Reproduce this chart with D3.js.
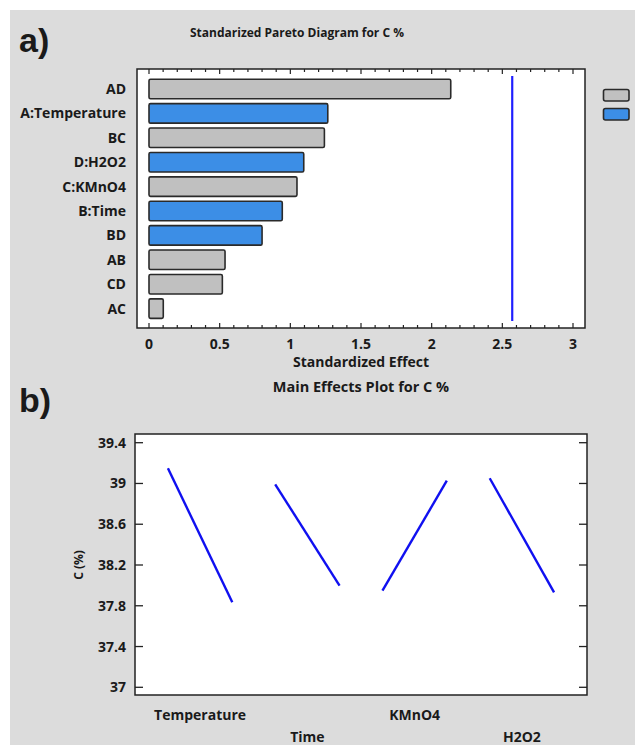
<!DOCTYPE html>
<html><head><meta charset="utf-8">
<script src="https://cdn.jsdelivr.net/npm/d3@7"></script>
<style>
html,body{margin:0;padding:0;background:#fff;}
text{font-family:"Open Sans",Lato,sans-serif;font-weight:700;fill:#1a1a1a;}
</style></head>
<body>
<svg id="chart" width="635" height="745"></svg>
<script>
// ---- Data ----
const paretoTerms = ["AD","A:Temperature","BC","D:H2O2","C:KMnO4","B:Time","BD","AB","CD","AC"];
const paretoEffects = [2.135, 1.265, 1.241, 1.095, 1.047, 0.943, 0.80, 0.538, 0.519, 0.101];
const paretoSign = ["neg","pos","neg","pos","neg","pos","pos","neg","neg","neg"];
const criticalValue = 2.57;
const paretoTicks = [0, 0.5, 1, 1.5, 2, 2.5, 3];

const factors = ["Temperature","Time","KMnO4","H2O2"];
const lowValues = [39.149, 38.992, 37.948, 39.051];
const highValues = [37.834, 37.997, 39.027, 37.932];
const yTicks = [37, 37.4, 37.8, 38.2, 38.6, 39, 39.4];

const svg = d3.select("#chart");
svg.append("rect").attr("x",10).attr("y",10).attr("width",625).attr("height",735).attr("fill","#dcdcdc");

// ---- Panel a ----
const aL=137, aR=585, aT=69, aB=328;
svg.append("text").attr("x",19).attr("y",52).style("font-size","34px").style("font-family","Arial, 'Liberation Sans', sans-serif").text("a)");
svg.append("text").attr("x",297).attr("y",37).attr("text-anchor","middle").style("font-size","12px").text("Standarized Pareto Diagram for C %");
svg.append("rect").attr("x",aL).attr("y",aT).attr("width",aR-aL).attr("height",aB-aT).attr("fill","#fff");

const x = d3.scaleLinear().domain([0,3]).range([149,573]);
const y = d3.scaleBand().domain(paretoTerms).range([76.8,320.8]).paddingInner(0.2).paddingOuter(0.1);

const colors = {neg:"#c0c0c0", pos:"#3c8ee6"};
svg.append("g").selectAll("rect").data(paretoTerms).join("rect")
  .attr("x", x(0)).attr("y", d=>y(d)).attr("height", y.bandwidth())
  .attr("width", (d,i)=>x(paretoEffects[i])-x(0))
  .attr("rx",1.5)
  .attr("fill",(d,i)=>colors[paretoSign[i]]).attr("stroke","#2a2a2a").attr("stroke-width",1.6);

// critical line
svg.append("line").attr("x1",x(criticalValue)).attr("x2",x(criticalValue)).attr("y1",76).attr("y2",321)
  .attr("stroke","#1f1fff").attr("stroke-width",2.2);

// ticks (inward on top and bottom)
const minor = d3.range(0,3.001,0.1);
const tg = svg.append("g");
minor.forEach(v=>{
  const isMajor = Math.abs(v*2 - Math.round(v*2))<1e-6;
  const len = isMajor?5:3;
  tg.append("line").attr("x1",x(v)).attr("x2",x(v)).attr("y1",aB).attr("y2",aB-len).attr("stroke","#222").attr("stroke-width",1.2);
  tg.append("line").attr("x1",x(v)).attr("x2",x(v)).attr("y1",aT).attr("y2",aT+len).attr("stroke","#222").attr("stroke-width",1.2);
});
svg.append("rect").attr("x",aL).attr("y",aT).attr("width",aR-aL).attr("height",aB-aT).attr("fill","none").attr("stroke","#222").attr("stroke-width",1.5);

// tick labels
svg.append("g").selectAll("text").data(paretoTicks).join("text")
  .attr("x",d=>x(d)).attr("y",349).attr("text-anchor","middle").style("font-size","14px").text(d=>d);
svg.append("text").attr("x",361).attr("y",367).attr("text-anchor","middle").style("font-size","14px").text("Standardized Effect");
// category labels
svg.append("g").selectAll("text").data(paretoTerms).join("text")
  .attr("x",126).attr("y",d=>y(d)+y.bandwidth()/2+5).attr("text-anchor","end").style("font-size","14px").text(d=>d);

// legend
["neg","pos"].forEach((k,i)=>{
  svg.append("rect").attr("x",603.5).attr("y",89.5+i*19).attr("width",25.5).attr("height",11.5).attr("rx",2)
    .attr("fill",colors[k]).attr("stroke","#2a2a2a").attr("stroke-width",1.6);
});

// ---- Panel b ----
const bL=135, bR=587, bT=434, bB=695;
svg.append("text").attr("x",19).attr("y",412).style("font-size","34px").style("font-family","Arial, 'Liberation Sans', sans-serif").text("b)");
svg.append("text").attr("x",361).attr("y",392).attr("text-anchor","middle").style("font-size","14.5px").text("Main Effects Plot for C %");
svg.append("rect").attr("x",bL).attr("y",bT).attr("width",bR-bL).attr("height",bB-bT).attr("fill","#fff");

const yb = d3.scaleLinear().domain([37,39.4]).range([687.3,442.7]);
const xb = d3.scaleBand().domain(factors).range([bL,bR]).paddingInner(0.4).paddingOuter(0.307);

const btg = svg.append("g");
yTicks.forEach(v=>{
  btg.append("line").attr("x1",bL).attr("x2",bL+8).attr("y1",yb(v)).attr("y2",yb(v)).attr("stroke","#222").attr("stroke-width",1.3);
  btg.append("line").attr("x1",bR).attr("x2",bR-8).attr("y1",yb(v)).attr("y2",yb(v)).attr("stroke","#222").attr("stroke-width",1.3);
});
svg.append("g").selectAll("text").data(yTicks).join("text")
  .attr("x",126).attr("y",d=>yb(d)+5).attr("text-anchor","end").style("font-size","14px").text(d=>d);
svg.append("text").attr("transform","translate(83,565) rotate(-90)").attr("text-anchor","middle").style("font-size","12px").text("C (%)");

const line = d3.line().x(d=>d[0]).y(d=>yb(d[1]));
svg.append("g").selectAll("path").data(factors).join("path")
  .attr("d",(f,i)=>line([[xb(f),lowValues[i]],[xb(f)+xb.bandwidth(),highValues[i]]]))
  .attr("fill","none").attr("stroke","#1010f0").attr("stroke-width",2.4);

svg.append("rect").attr("x",bL).attr("y",bT).attr("width",bR-bL).attr("height",bB-bT).attr("fill","none").attr("stroke","#222").attr("stroke-width",1.5);

svg.append("g").selectAll("text").data(factors).join("text")
  .attr("x",f=>xb(f)+xb.bandwidth()/2).attr("y",(f,i)=>i%2===0?720:742)
  .attr("text-anchor","middle").style("font-size","14px").text(f=>f);
</script>
</body></html>
